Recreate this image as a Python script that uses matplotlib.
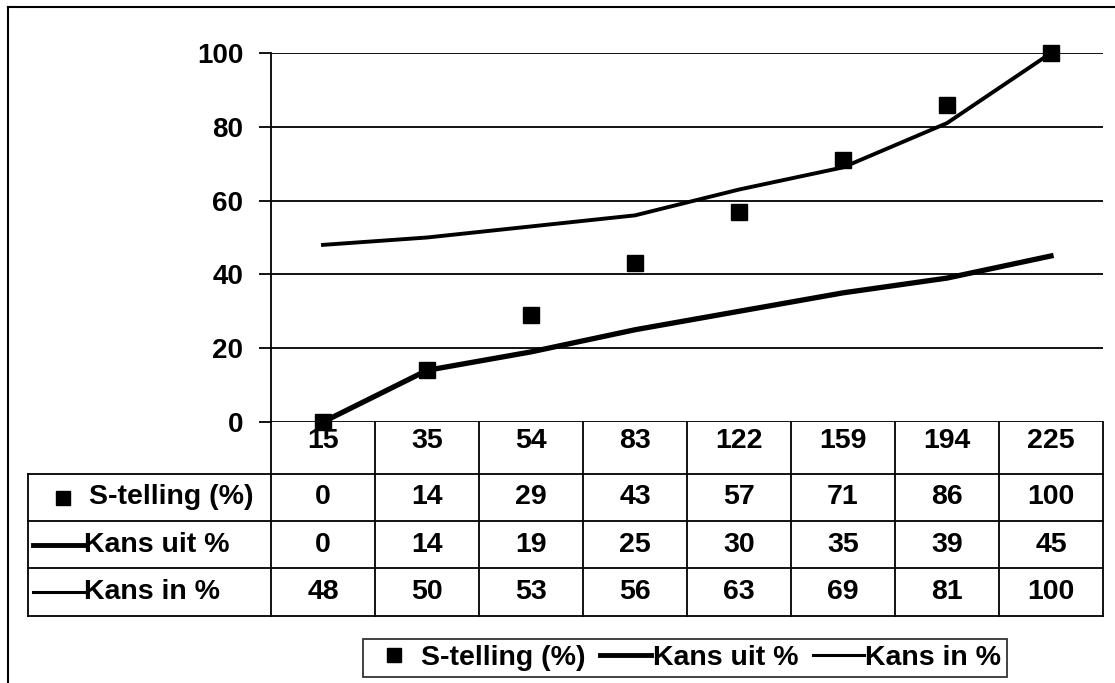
import numpy as np
import matplotlib
matplotlib.use('Agg')
import matplotlib.pyplot as plt
from matplotlib.lines import Line2D
from matplotlib.transforms import blended_transform_factory

plt.rcParams['font.family'] = ['Liberation Sans', 'DejaVu Sans']
plt.rcParams['font.weight'] = 'bold'

# Data
categories = ['15', '35', '54', '83', '122', '159', '194', '225']
s_telling = [0, 14, 29, 43, 57, 71, 86, 100]
kans_uit = [0, 14, 19, 25, 30, 35, 39, 45]
kans_in = [48, 50, 53, 56, 63, 69, 81, 100]
series_names = ['S-telling (%)', 'Kans uit %', 'Kans in %']
y_ticks = [0, 20, 40, 60, 80, 100]

W, H = 1115, 683
FS = 20.5


def px(x0, y0, x1, y1):
    # axes rectangle from pixel corners (origin top-left)
    return [x0 / W, 1 - y1 / H, (x1 - x0) / W, (y1 - y0) / H]


fig = plt.figure(figsize=(W / 100, H / 100), dpi=100)

# Main plot area
ax = fig.add_axes(px(271, 53, 1103, 422))
x = np.arange(len(categories))
ax.set_xlim(-0.5, len(categories) - 0.5)
ax.set_ylim(0, 100)
ax.set_yticks(y_ticks)
ax.set_xticks([])
ax.yaxis.grid(True, color='black', lw=1.3)
ax.set_axisbelow(True)
for side in ['top', 'right', 'bottom']:
    ax.spines[side].set_visible(False)
ax.spines['left'].set_linewidth(1.3)
ax.tick_params(axis='y', length=9, width=1.3, labelsize=20, pad=11)
ax.patch.set_alpha(0)

ax.plot(x, kans_uit, color='black', lw=3.8, solid_joinstyle='round', clip_on=False)
ax.plot(x, kans_in, color='black', lw=2.8, solid_joinstyle='round', clip_on=False)
ax.plot(x, s_telling, 's', color='black', ms=12, clip_on=False, zorder=5)

# Overlay in pixel units for the data table and outer frame
tab = fig.add_axes([0, 0, 1, 1])
tab.set_xlim(0, W)
tab.set_ylim(H, 0)
tab.axis('off')
tab.set_zorder(-1)
mix = blended_transform_factory(ax.transData, tab.transData)

lw = 1.3
rows = [422, 474, 521, 568, 616]
label_left = 28
axis_x = 271

# table grid
for y in rows[1:]:
    tab.plot([label_left, 1103], [y, y], color='black', lw=lw)
tab.plot([label_left, label_left], [rows[1], rows[-1]], color='black', lw=lw)
tab.plot([axis_x, axis_x], [rows[0], rows[-1]], color='black', lw=lw)
for i in range(len(categories)):
    tab.plot([i + 0.5, i + 0.5], [rows[0], rows[-1]], color='black', lw=lw,
             transform=mix)

# category row
for i, c in enumerate(categories):
    tab.text(i, 441, c, transform=mix, ha='center', va='center', fontsize=FS)

# value rows
for r, vals in enumerate([s_telling, kans_uit, kans_in]):
    yc = (rows[r + 1] + rows[r + 2]) / 2
    for i, v in enumerate(vals):
        tab.text(i, yc, str(v), transform=mix, ha='center', va='center', fontsize=FS)

# row labels with legend keys
y1 = (rows[1] + rows[2]) / 2
y2 = (rows[2] + rows[3]) / 2
y3 = (rows[3] + rows[4]) / 2
tab.plot([63], [y1], 's', color='black', ms=10)
tab.text(89, y1, series_names[0], ha='left', va='center', fontsize=FS)
tab.plot([33, 84], [y2, y2], color='black', lw=3.5)
tab.text(84, y2, series_names[1], ha='left', va='center', fontsize=FS)
tab.plot([33, 84], [y3, y3], color='black', lw=2.2)
tab.text(84, y3, series_names[2], ha='left', va='center', fontsize=FS)

# outer frame (left and top edges)
tab.plot([8, 8], [7, H], color='black', lw=1.5)
tab.plot([8, W], [7, 7], color='black', lw=1.5)

# legend
handles = [
    Line2D([], [], marker='s', color='black', ls='none', ms=10),
    Line2D([], [], color='black', lw=3.5),
    Line2D([], [], color='black', lw=2.2),
]
leg = fig.legend(handles, series_names, loc='center',
                 bbox_to_anchor=(685 / W, 1 - 658 / H), ncol=3, fontsize=FS,
                 frameon=True, fancybox=False, edgecolor='black',
                 handlelength=1.8, handletextpad=0.05, columnspacing=0.5,
                 borderpad=0.2, borderaxespad=0)
leg.get_frame().set_linewidth(1.3)

fig.savefig('out.png', dpi=100)
